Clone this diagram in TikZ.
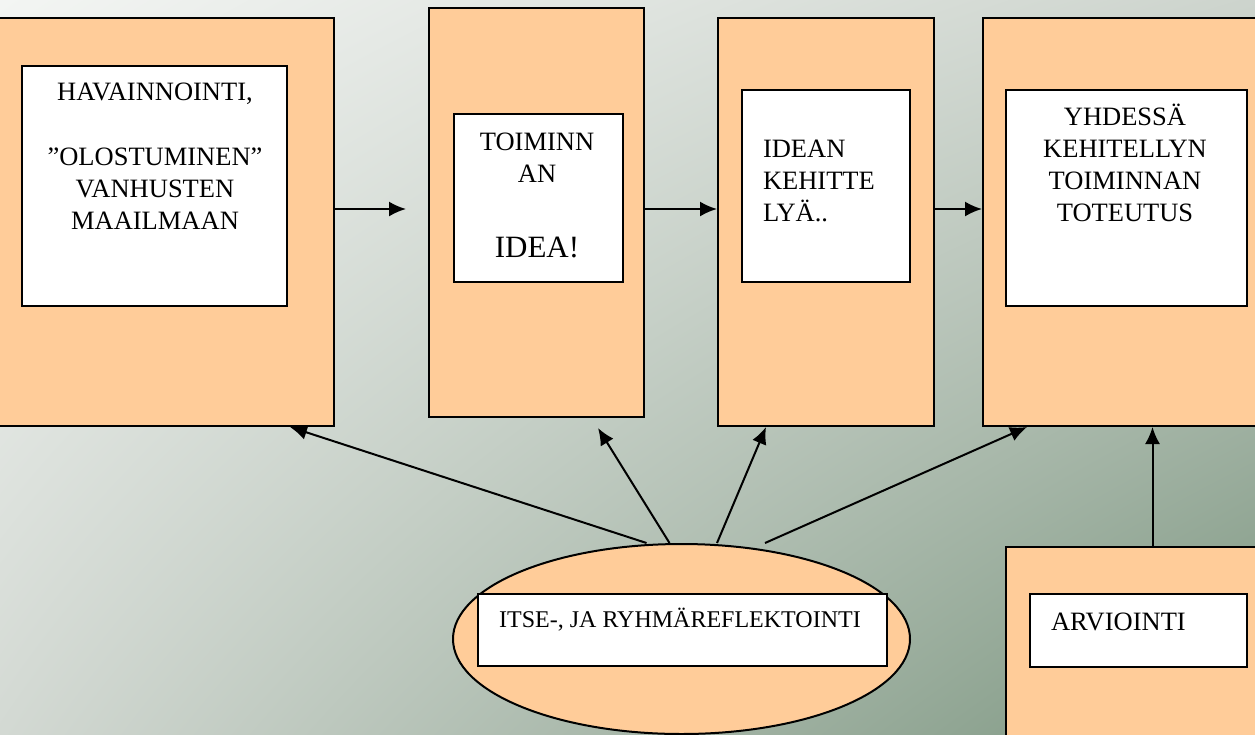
\documentclass[tikz,border=0pt]{standalone}
\usepackage{fontspec}
\setmainfont{Liberation Serif}
\usetikzlibrary{shapes.geometric,arrows.meta,shadings}
\tikzset{>={Latex[length=17pt,width=15pt]}}
\definecolor{peach}{HTML}{FFCC99}
\definecolor{bgtl}{HTML}{F3F5F3}
\definecolor{bgtr}{HTML}{CDD4CD}
\definecolor{bgbl}{HTML}{D3D9D3}
\definecolor{bgbr}{HTML}{7B957F}

\begin{document}
\begin{tikzpicture}[x=1pt,y=-1pt,line width=2pt,
    outer/.style={draw,fill=peach,anchor=north west,inner sep=0pt},
    inner/.style={draw,fill=white,anchor=north west,inner sep=0pt},
    txt/.style={font=\fontsize{26.5}{31.7}\selectfont,inner sep=0pt}]
            \useasboundingbox (0,0) rectangle (1255,734);
            \clip (0,0) rectangle (1255,734);
            \shade[upper left=bgtl,upper right=bgtr,lower left=bgbl,lower right=bgbr] (0,0) rectangle (1255,734);
            % top row
            \node[outer,minimum width=338,minimum height=408] (box1) at (-5,17){};
            \node[inner,minimum width=265,minimum height=240] (in1) at (21,65){};
            \node[txt,align=center,anchor=base] (t1) at (155,229){HAVAINNOINTI,\\[33pt]”OLOSTUMINEN”\\VANHUSTEN\\MAAILMAAN};
            \node[outer,minimum width=215,minimum height=409] (box2) at (428,7){};
            \node[inner,minimum width=169,minimum height=168] (in2) at (453,113){};
            \node[txt,align=center,anchor=base] (t2) at (537,257){TOIMINN\\AN\\[43pt]{\fontsize{31}{36}\selectfont IDEA!}};
            \node[outer,minimum width=216,minimum height=408] (box3) at (717,17){};
            \node[inner,minimum width=168,minimum height=192] (in3) at (741,89){};
            \node[txt,align=left,anchor=base west] (t3) at (762,221){IDEAN\\KEHITTE\\LYÄ..};
            \node[outer,minimum width=290,minimum height=408] (box4) at (982,17){};
            \node[inner,minimum width=241,minimum height=216] (in4) at (1005,89){};
            \node[txt,align=center,anchor=base] (t4) at (1125,221){YHDESSÄ\\KEHITELLYN\\TOIMINNAN\\TOTEUTUS};
            % bottom row
            \node[draw,fill=peach,ellipse,minimum width=457,minimum height=190] (refl) at (681.5,639){};
            \node[inner,minimum width=409,minimum height=72] (in5) at (477,593){};
            \node[txt,font=\fontsize{24}{29}\selectfont,anchor=base] (t5) at (680,627){ITSE-, JA RYHMÄREFLEKTOINTI};
            \node[outer,minimum width=260,minimum height=200] (box5) at (1005,546){};
            \node[inner,minimum width=217,minimum height=73] (in6) at (1029,593){};
            \node[txt,anchor=base west] (t6) at (1050,630){ARVIOINTI};
            % connectors
            \coordinate (flow) at (0,209);
            \draw[->,shorten >=22pt] (flow -| box1.east) -- (flow -| box2.west);
            \draw[->] (flow -| box2.east) -- (flow -| box3.west);
            \draw[->] (flow -| box3.east) -- (flow -| box4.west);
            \draw[->] ([xshift=-35pt]refl.north) -- ([xshift=-45pt]box1.south east);
            \draw[->] ([xshift=-12pt]refl.north) -- ([xshift=61.5pt,yshift=-10pt]box2.south);
            \draw[->] ([xshift=35.5pt]refl.north) -- ([xshift=-60pt]box3.south);
            \draw[->] ([xshift=83.5pt]refl.north) -- ([xshift=45pt]box4.south west);
            \draw[->] ([xshift=16.5pt]box5.north) -- ([xshift=16.5pt]box5.north |- box4.south);
        \end{tikzpicture}
\end{document}
